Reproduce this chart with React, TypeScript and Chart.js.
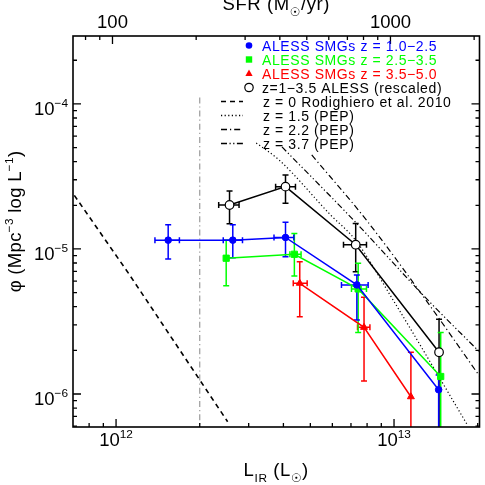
import React, { useEffect, useRef } from "react";
import { Chart, registerables } from "chart.js";

Chart.register(...registerables);

const FONT = '"Liberation Sans", "DejaVu Sans", Arial, sans-serif';
const BLUE = "#0000ff";
const GREEN = "#00ff00";
const RED = "#ff0000";
const BLACK = "#000000";
const GREY = "#9a9a9a";

// ---- axis limits & ticks ----
const L_RANGE = [7.0e11, 2.03e13];
const PHI_RANGE = [5.92e-7, 2.94e-4];
const SFR_RANGE = [72.1, 2091];

const xMajor = [1e12, 1e13];
const xMajorExp = ["12", "13"];
const xMinor = [8e11, 9e11, 2e12, 3e12, 4e12, 5e12, 6e12, 7e12, 8e12, 9e12, 2e13];
const yMajor = [1e-4, 1e-5, 1e-6];
const yMajorExp = ["−4", "−5", "−6"];
const yMinor = [
  6e-7, 7e-7, 8e-7, 9e-7,
  2e-6, 3e-6, 4e-6, 5e-6, 6e-6, 7e-6, 8e-6, 9e-6,
  2e-5, 3e-5, 4e-5, 5e-5, 6e-5, 7e-5, 8e-5, 9e-5,
  2e-4,
];
const sfrMajor = [100, 1000];
const sfrLabels = ["100", "1000"];
const sfrMinor = [80, 90, 200, 300, 400, 500, 600, 700, 800, 900, 2000];

// ---- ALESS z = 1.0-2.5 (blue) ----
const blueL = [1.54e12, 2.63e12, 4.07e12, 7.35e12, 1.447e13];
const bluePhi = [1.15e-5, 1.15e-5, 1.2e-5, 5.65e-6, 1.07e-6];
const blueLlo = [1.38e12, 2.43e12, 3.7e12, 6.47e12, null];
const blueLhi = [1.69e12, 2.85e12, 4.36e12, 8.07e12, null];
const bluePhiLo = [8.53e-6, 8.7e-6, 8.85e-6, 3.24e-6, 1e-8];
const bluePhiHi = [1.47e-5, 1.47e-5, 1.53e-5, 6.62e-6, 1.35e-6];

// ---- ALESS z = 2.5-3.5 (green) ----
const greenL = [2.49e12, 4.38e12, 7.43e12, 1.472e13];
const greenPhi = [8.63e-6, 9.19e-6, 5.3e-6, 1.32e-6];
const greenLlo = [null, 4.22e12, 7.03e12, null];
const greenLhi = [null, 4.63e12, 7.96e12, null];
const greenPhiLo = [5.58e-6, 6.5e-6, 2.65e-6, 1e-8];
const greenPhiHi = [1.15e-5, 1.28e-5, 7.96e-6, 2.65e-6];

// ---- ALESS z = 3.5-5.0 (red) ----
const redL = [4.58e12, 7.8e12, 1.15e13];
const redPhi = [5.8e-6, 2.88e-6, 9.57e-7];
const redLlo = [4.34e12, 7.39e12, null];
const redLhi = [4.87e12, 8.19e12, null];
const redPhiLo = [3.41e-6, 1.23e-6, 1e-8];
const redPhiHi = [8.17e-6, 4.65e-6, 1.94e-6];

// ---- z = 1-3.5 ALESS rescaled (black open) ----
const blackL = [2.56e12, 4.07e12, 7.28e12, 1.452e13];
const blackPhi = [2.01e-5, 2.69e-5, 1.07e-5, 1.94e-6];
const blackLlo = [2.34e12, 3.75e12, 6.58e12, null];
const blackLhi = [2.77e12, 4.42e12, 7.96e12, null];
const blackPhiLo = [1.49e-5, 2.07e-5, 6.96e-6, 1e-8];
const blackPhiHi = [2.51e-5, 3.24e-5, 1.5e-5, 3.27e-6];

// ---- reference curves ----
const rodL = [6.5e11, 1.109e12, 2.52e12];
const rodPhi = [2.96e-5, 6.79e-6, 6.44e-7];
const pep15L = [3.193e12, 3.857e12, 5.911e12, 7.26e12, 9.92e12, 1.837e13];
const pep15Phi = [5.38e-5, 4.11e-5, 1.716e-5, 1.153e-5, 4.45e-6, 6.11e-7];
const pep22L = [5.058e12, 7.946e12, 1.301e13, 2.03e13];
const pep22Phi = [4.45e-5, 1.585e-5, 4.45e-6, 1.33e-6];
const pep37L = [3.953e12, 7.14e12, 1.322e13, 2.03e13];
const pep37Phi = [5.05e-5, 1.585e-5, 4.45e-6, 1.95e-6];
const limitL = [2e12, 2e12];
const limitPhi = [1e-7, 1.15e-4];

const legendLabels = [
  "ALESS SMGs z = 1.0−2.5",
  "ALESS SMGs z = 2.5−3.5",
  "ALESS SMGs z = 3.5−5.0",
  "z=1−3.5 ALESS (rescaled)",
  "z = 0 Rodighiero et al. 2010",
  "z = 1.5 (PEP)",
  "z = 2.2 (PEP)",
  "z = 3.7 (PEP)",
];

const DASH_ROD = [5, 4];
const DASH_15 = [1.2, 2.4];
const DASH_22 = [6, 3, 1.2, 3];
const DASH_37 = [6, 2.5, 1.2, 2.5, 1.2, 2.5];

const pts = (xs: number[], ys: number[]) => xs.map((x, i) => ({ x, y: ys[i] }));

type Part = { t: string; k?: "sup" | "sub" };

function drawRich(
  ctx: CanvasRenderingContext2D,
  parts: Part[],
  x: number,
  y: number,
  size: number,
  align: "left" | "center" | "right",
  color: string,
  spacing = 0
) {
  const small = size * 0.64;
  (ctx as any).letterSpacing = `${spacing}px`;
  let w = 0;
  for (const p of parts) {
    ctx.font = `${p.k ? small : size}px ${FONT}`;
    w += ctx.measureText(p.t).width;
  }
  let cx = align === "center" ? x - w / 2 : align === "right" ? x - w : x;
  ctx.fillStyle = color;
  ctx.textAlign = "left";
  ctx.textBaseline = "alphabetic";
  for (const p of parts) {
    ctx.font = `${p.k ? small : size}px ${FONT}`;
    const dy = p.k === "sup" ? -size * 0.42 : p.k === "sub" ? size * 0.3 : 0;
    ctx.fillText(p.t, cx, y + dy);
    cx += ctx.measureText(p.t).width;
  }
  (ctx as any).letterSpacing = "0px";
}

type ErrSeries = {
  color: string;
  L: number[];
  phi: number[];
  Llo: (number | null)[];
  Lhi: (number | null)[];
  lo: (number | null)[];
  hi: (number | null)[];
};

const errSeries: ErrSeries[] = [
  { color: BLACK, L: blackL, phi: blackPhi, Llo: blackLlo, Lhi: blackLhi, lo: blackPhiLo, hi: blackPhiHi },
  { color: RED, L: redL, phi: redPhi, Llo: redLlo, Lhi: redLhi, lo: redPhiLo, hi: redPhiHi },
  { color: GREEN, L: greenL, phi: greenPhi, Llo: greenLlo, Lhi: greenLhi, lo: greenPhiLo, hi: greenPhiHi },
  { color: BLUE, L: blueL, phi: bluePhi, Llo: blueLlo, Lhi: blueLhi, lo: bluePhiLo, hi: bluePhiHi },
];

const overlay = {
  id: "overlay",
  beforeDatasetsDraw(chart: any) {
    const ctx: CanvasRenderingContext2D = chart.ctx;
    const xs = chart.scales.x;
    const ys = chart.scales.y;
    const a = chart.chartArea;
    ctx.save();
    ctx.beginPath();
    ctx.rect(a.left, a.top, a.right - a.left, a.bottom - a.top);
    ctx.clip();
    ctx.lineWidth = 1.5;
    const cap = 3;
    for (const s of errSeries) {
      ctx.strokeStyle = s.color;
      s.L.forEach((L, i) => {
        const px = xs.getPixelForValue(L);
        const py = ys.getPixelForValue(s.phi[i]);
        const lo = s.lo[i];
        const hi = s.hi[i];
        if (lo != null && hi != null) {
          const y1 = ys.getPixelForValue(lo);
          const y2 = ys.getPixelForValue(hi);
          ctx.beginPath();
          ctx.moveTo(px, y1);
          ctx.lineTo(px, y2);
          ctx.moveTo(px - cap, y2);
          ctx.lineTo(px + cap, y2);
          ctx.moveTo(px - cap, y1);
          ctx.lineTo(px + cap, y1);
          ctx.stroke();
        }
        const l1 = s.Llo[i];
        const l2 = s.Lhi[i];
        if (l1 != null && l2 != null) {
          const x1 = xs.getPixelForValue(l1);
          const x2 = xs.getPixelForValue(l2);
          ctx.beginPath();
          ctx.moveTo(x1, py);
          ctx.lineTo(x2, py);
          ctx.moveTo(x1, py - cap);
          ctx.lineTo(x1, py + cap);
          ctx.moveTo(x2, py - cap);
          ctx.lineTo(x2, py + cap);
          ctx.stroke();
        }
      });
    }
    ctx.restore();
  },
  afterDraw(chart: any) {
    const ctx: CanvasRenderingContext2D = chart.ctx;
    const xs = chart.scales.x;
    const ys = chart.scales.y;
    const x2 = chart.scales.x2;
    const a = chart.chartArea;
    ctx.save();
    // frame
    ctx.strokeStyle = BLACK;
    ctx.lineWidth = 1.6;
    ctx.setLineDash([]);
    ctx.strokeRect(a.left, a.top, a.right - a.left, a.bottom - a.top);
    // ticks
    ctx.lineWidth = 1.3;
    const MAJ = 8;
    const MIN = 4;
    ctx.beginPath();
    const xt = (v: number, len: number) => {
      const p = xs.getPixelForValue(v);
      ctx.moveTo(p, a.bottom);
      ctx.lineTo(p, a.bottom - len);
    };
    xMajor.forEach((v) => xt(v, MAJ));
    xMinor.forEach((v) => xt(v, MIN));
    const st = (v: number, len: number) => {
      const p = x2.getPixelForValue(v);
      ctx.moveTo(p, a.top);
      ctx.lineTo(p, a.top + len);
    };
    sfrMajor.forEach((v) => st(v, MAJ));
    sfrMinor.forEach((v) => st(v, MIN));
    const yt = (v: number, len: number) => {
      const p = ys.getPixelForValue(v);
      ctx.moveTo(a.left, p);
      ctx.lineTo(a.left + len, p);
      ctx.moveTo(a.right, p);
      ctx.lineTo(a.right - len, p);
    };
    yMajor.forEach((v) => yt(v, MAJ));
    yMinor.forEach((v) => yt(v, MIN));
    ctx.stroke();

    // tick labels
    const TS = 18.5;
    xMajor.forEach((v, i) => {
      const p = xs.getPixelForValue(v);
      drawRich(ctx, [{ t: "10" }, { t: xMajorExp[i], k: "sup" }], p, a.bottom + 18.5, TS, "center", BLACK);
    });
    yMajor.forEach((v, i) => {
      const p = ys.getPixelForValue(v);
      drawRich(ctx, [{ t: "10" }, { t: yMajorExp[i], k: "sup" }], a.left - 5, p + 11, TS, "right", BLACK);
    });
    sfrMajor.forEach((v, i) => {
      const p = x2.getPixelForValue(v);
      drawRich(ctx, [{ t: sfrLabels[i] }], p, a.top - 8, TS, "center", BLACK);
    });

    // axis titles
    const cxm = (a.left + a.right) / 2;
    drawRich(ctx, [{ t: "SFR (M" }, { t: "☉", k: "sub" }, { t: "/yr)" }], cxm, 10, TS, "center", BLACK, 0.6);
    drawRich(ctx, [{ t: "L" }, { t: "IR", k: "sub" }, { t: " (L" }, { t: "☉", k: "sub" }, { t: ")" }], cxm, 476, TS, "center", BLACK, 0.6);
    ctx.save();
    ctx.translate(21, (a.top + a.bottom) / 2 - 10);
    ctx.rotate(-Math.PI / 2);
    drawRich(
      ctx,
      [{ t: "φ (Mpc" }, { t: "−3", k: "sup" }, { t: " log L" }, { t: "−1", k: "sup" }, { t: ")" }],
      0,
      0,
      TS,
      "center",
      BLACK,
      0.3
    );
    ctx.restore();

    // legend
    const LS = 14;
    const colors = [BLUE, GREEN, RED, BLACK, BLACK, BLACK, BLACK, BLACK];
    const dashes = [DASH_ROD, DASH_15, DASH_22, DASH_37];
    legendLabels.forEach((lab, i) => {
      const cy = 45.5 + 14 * i;
      ctx.fillStyle = colors[i];
      ctx.strokeStyle = colors[i];
      if (i < 4) {
        const mx = 249;
        ctx.setLineDash([]);
        ctx.beginPath();
        if (i === 0) {
          ctx.arc(mx, cy, 3.3, 0, Math.PI * 2);
          ctx.fill();
        } else if (i === 1) {
          ctx.fillRect(mx - 3.2, cy - 3.2, 6.4, 6.4);
        } else if (i === 2) {
          ctx.moveTo(mx, cy - 4);
          ctx.lineTo(mx + 3.6, cy + 2.5);
          ctx.lineTo(mx - 3.6, cy + 2.5);
          ctx.closePath();
          ctx.fill();
        } else {
          ctx.lineWidth = 1.2;
          ctx.arc(mx, cy, 4.2, 0, Math.PI * 2);
          ctx.stroke();
        }
      } else {
        ctx.lineWidth = 1.3;
        ctx.setLineDash(dashes[i - 4]);
        ctx.beginPath();
        ctx.moveTo(221, cy);
        ctx.lineTo(243, cy);
        ctx.stroke();
        ctx.setLineDash([]);
      }
      ctx.font = `${LS}px ${FONT}`;
      (ctx as any).letterSpacing = "0.6px";
      ctx.textAlign = "left";
      ctx.textBaseline = "alphabetic";
      ctx.fillStyle = colors[i];
      ctx.fillText(lab, i < 4 ? 262 : 263, cy + 5);
      (ctx as any).letterSpacing = "0px";
    });
    ctx.restore();
  },
};

export default function App() {
  const ref = useRef<HTMLCanvasElement | null>(null);
  useEffect(() => {
    const canvas = ref.current;
    if (!canvas) return;
    const common = { showLine: true, xAxisID: "x", yAxisID: "y" };
    const chart = new Chart(canvas, {
      type: "scatter",
      data: {
        datasets: [
          {
            ...common,
            label: legendLabels[0],
            data: pts(blueL, bluePhi),
            borderColor: BLUE,
            borderWidth: 1.5,
            pointStyle: "circle",
            pointRadius: 3.3,
            pointBackgroundColor: BLUE,
            pointBorderColor: BLUE,
            pointBorderWidth: 1,
          },
          {
            ...common,
            label: legendLabels[1],
            data: pts(greenL, greenPhi),
            borderColor: GREEN,
            borderWidth: 1.5,
            pointStyle: "rect",
            pointRadius: 4.4,
            pointBackgroundColor: GREEN,
            pointBorderColor: GREEN,
            pointBorderWidth: 1,
          },
          {
            ...common,
            label: legendLabels[2],
            data: pts(redL, redPhi),
            borderColor: RED,
            borderWidth: 1.5,
            pointStyle: "triangle",
            pointRadius: 4,
            pointBackgroundColor: RED,
            pointBorderColor: RED,
            pointBorderWidth: 1,
          },
          {
            ...common,
            label: legendLabels[3],
            data: pts(blackL, blackPhi),
            borderColor: BLACK,
            borderWidth: 1.5,
            pointStyle: "circle",
            pointRadius: 4.3,
            pointBackgroundColor: "#ffffff",
            pointBorderColor: BLACK,
            pointBorderWidth: 1.2,
          },
          {
            ...common,
            label: legendLabels[4],
            data: pts(rodL, rodPhi),
            borderColor: BLACK,
            borderWidth: 1.6,
            borderDash: DASH_ROD,
            pointRadius: 0,
          },
          {
            ...common,
            label: legendLabels[5],
            data: pts(pep15L, pep15Phi),
            borderColor: BLACK,
            borderWidth: 1.2,
            borderDash: DASH_15,
            pointRadius: 0,
            cubicInterpolationMode: "monotone",
          },
          {
            ...common,
            label: legendLabels[6],
            data: pts(pep22L, pep22Phi),
            borderColor: BLACK,
            borderWidth: 1.2,
            borderDash: DASH_22,
            pointRadius: 0,
            cubicInterpolationMode: "monotone",
          },
          {
            ...common,
            label: legendLabels[7],
            data: pts(pep37L, pep37Phi),
            borderColor: BLACK,
            borderWidth: 1.2,
            borderDash: DASH_37,
            pointRadius: 0,
            cubicInterpolationMode: "monotone",
          },
          {
            ...common,
            label: "limit",
            data: pts(limitL, limitPhi),
            borderColor: GREY,
            borderWidth: 1.2,
            borderDash: [6, 3, 1.2, 3],
            pointRadius: 0,
          },
        ],
      } as any,
      options: {
        animation: false,
        responsive: false,
        maintainAspectRatio: false,
        layout: { padding: { left: 73, right: 3, top: 36, bottom: 58 } },
        plugins: { legend: { display: false }, tooltip: { enabled: false } },
        scales: {
          x: { type: "logarithmic", min: L_RANGE[0], max: L_RANGE[1], display: false },
          y: { type: "logarithmic", min: PHI_RANGE[0], max: PHI_RANGE[1], display: false },
          x2: {
            type: "logarithmic",
            axis: "x",
            position: "top",
            min: SFR_RANGE[0],
            max: SFR_RANGE[1],
            display: false,
          },
        },
      } as any,
      plugins: [overlay],
    });
    return () => chart.destroy();
  }, []);
  return (
    <div style={{ position: "fixed", left: 0, top: 0, width: 485, height: 485, background: "#fff" }}>
      <canvas ref={ref} width={485} height={485} style={{ display: "block" }} />
    </div>
  );
}
